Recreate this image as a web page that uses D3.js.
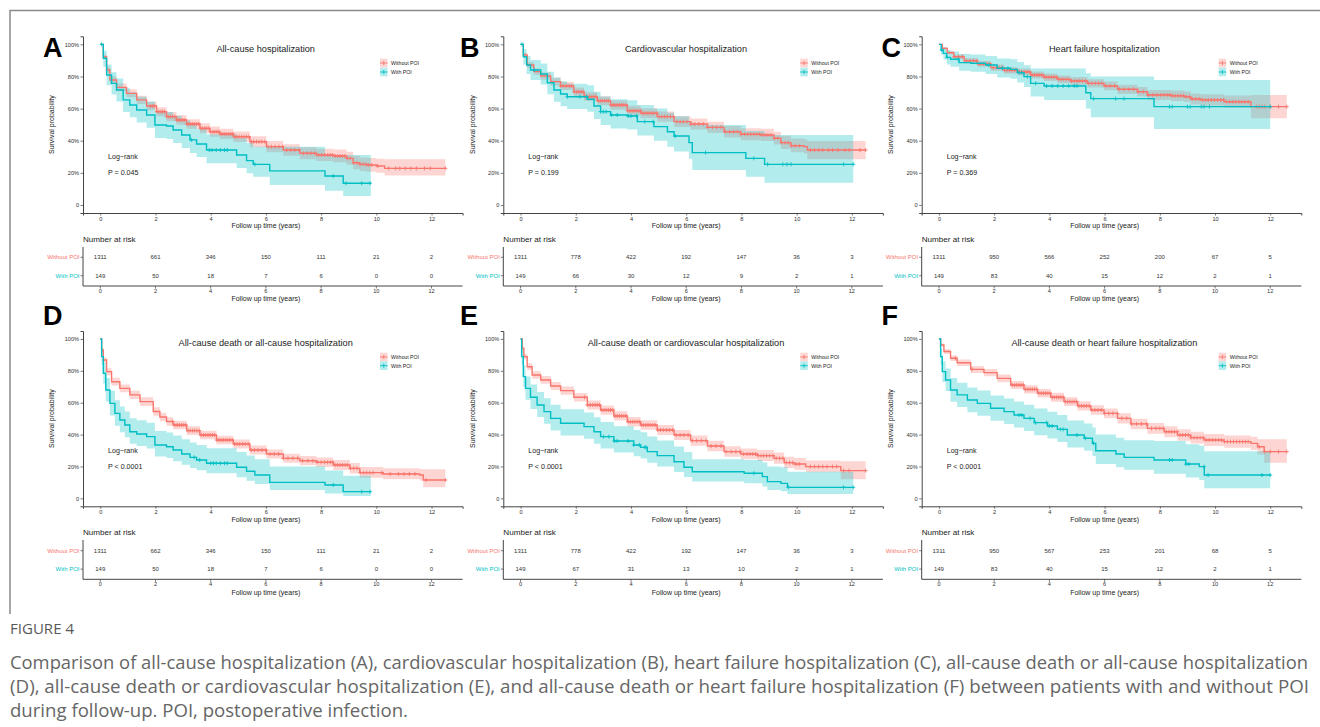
<!DOCTYPE html>
<html><head><meta charset="utf-8">
<script src="https://cdn.jsdelivr.net/npm/d3@7"></script>
<style>body{margin:0;background:#fff;} svg{display:block;}</style>
</head><body>
<svg id="c" width="1320" height="727"></svg>
<script>
// ---------- DATA (time in years, survival %, lower CI %, upper CI %) ----------
const panelLetters = ["A","B","C","D","E","F"];
const panelTitles = ["All-cause hospitalization","Cardiovascular hospitalization","Heart failure hospitalization",
  "All-cause death or all-cause hospitalization","All-cause death or cardiovascular hospitalization","All-cause death or heart failure hospitalization"];
const pValues = ["P = 0.045","P = 0.199","P = 0.369","P < 0.0001","P < 0.0001","P < 0.0001"];
const groupNames = ["Without POI","With POI"];
const xTicks = [0,2,4,6,8,10,12];
const yTicks = [0,0.2,0.4,0.6,0.8,1];
const yTickLabels = ["0","20%","40%","60%","80%","100%"];

const A_without = [[0,100,100,100],[0.11,92.3,90.9,93.7],[0.23,84,82,86],[0.35,77.8,75.5,80],[0.59,73.2,70.8,75.6],[0.95,69.5,67,72],[1.32,65.4,62.8,68],[1.68,61.6,58.9,64.3],[2.04,58.1,55.3,60.9],[2.4,55,52.1,57.9],[2.76,52.9,50,55.9],[3.13,50.4,47.4,53.4],[3.61,47.7,44.6,50.8],[3.97,45.6,42.5,48.8],[4.33,44.2,41,47.4],[4.82,42.5,39.2,45.8],[5.42,39.4,36,42.8],[6.02,36.3,32.8,39.8],[6.63,34.2,30.6,37.8],[7.23,32.2,28.5,36],[7.83,31.1,27.3,35],[8.44,30.5,26.6,34.5],[8.92,29,25,33.2],[9.16,26.3,22.2,30.6],[9.4,25.3,21.1,29.6],[9.65,24.9,20.7,29.3],[10.0,24.3,20,28.8],[10.3,22.8,18.3,28.4],[12.5,22.8,18.3,28.4]];
const A_with = [[0,100,100,100],[0.11,91.3,86,96],[0.23,80.9,74.5,87.5],[0.41,75.7,68.8,82.6],[0.59,71.6,64.4,78.8],[0.83,65.4,57.9,73],[1.07,62.2,54.6,70.2],[1.32,59.1,51.3,67.3],[1.68,56,48,64.4],[1.98,49.8,41.7,58.5],[2.4,49.2,41,57.9],[2.64,46.7,38.5,55.6],[2.95,43.6,35.4,52.7],[3.25,40.5,32.3,49.8],[3.49,38,29.8,47.5],[3.85,34.2,26,44],[4.94,31.1,23,41.5],[5.3,27.6,19.7,38.5],[5.54,25.3,17.6,36.3],[6.14,21.2,12.4,36.3],[8.14,18,8.9,31.1],[8.8,13.5,5.6,31.1],[9.8,13.5,5.6,31.1]];
const B_without = [[0,100,100,100],[0.1,93.4,92,94.8],[0.24,87.1,85.3,88.9],[0.48,83,81,85],[0.73,80.3,78.1,82.5],[1.09,76.8,74.4,79.2],[1.45,74.1,71.6,76.6],[1.93,70.5,67.9,73.1],[2.3,67.4,64.7,70.1],[2.78,64.9,62.1,67.7],[3.26,62.2,59.3,65.1],[3.87,58.7,55.7,61.7],[4.35,57.1,54,60.2],[4.95,55,51.8,58.2],[5.56,51.9,48.6,55.2],[6.16,50.4,47,53.8],[6.77,48.3,44.8,51.8],[7.37,45.6,42,49.2],[7.98,44,40.3,47.8],[8.7,43.6,39.8,47.5],[9.18,41.5,37.6,45.6],[9.43,38.8,34.8,43.1],[9.79,36.9,32.8,41.4],[10.27,36.3,32.1,40.9],[10.39,34.2,28.4,39.8],[12.5,34.2,28.4,39.8]];
const B_with = [[0,100,100,100],[0.1,92.3,87.5,97],[0.22,87.1,81.5,92.8],[0.36,84,77.8,90.3],[0.73,81.5,75,88],[0.97,76.1,69,83],[1.21,71.6,64.2,79.4],[1.45,69.1,61.5,77],[1.69,67.4,59.7,75.5],[2.42,65.8,58,74.5],[2.66,61.6,53.5,70.5],[2.9,58.1,49.8,67.5],[3.26,56,47.6,65.8],[3.87,55.4,47,65.2],[4.23,51.9,43.2,62.3],[4.83,48.8,40,60],[5.32,45.6,36.2,57.4],[5.56,42.9,33.3,55.2],[6.1,38.8,28.8,52],[6.22,32.6,21.8,49.8],[8.16,29,17.5,46],[8.84,25.3,13.9,43.6],[12.05,25.3,13.9,43.6]];
const C_without = [[0,100,100,100],[0.12,97.5,96.7,98.3],[0.3,94.8,93.6,96],[0.54,92.3,90.9,93.7],[0.91,89.8,88.2,91.4],[1.39,87.8,86,89.6],[1.87,85.5,83.6,87.4],[2.36,83.8,81.8,85.8],[2.84,82.8,80.7,84.9],[3.32,80.9,78.7,83.1],[3.81,79.5,77.2,81.8],[4.29,78.2,75.8,80.6],[4.77,77.2,74.7,79.7],[5.38,75.7,73.1,78.3],[5.98,74.1,71.4,76.8],[6.47,72,69.1,74.9],[7.19,70.5,67.5,73.5],[7.55,68.5,65.4,71.6],[8.4,68,64.8,71.2],[8.88,67.4,64.1,70.7],[9.12,66,62.6,69.4],[9.49,65.4,61.9,68.9],[10.33,64.3,60.5,68.1],[11.3,61.2,54,68.5],[12.6,61.2,54,68.5]];
const C_with = [[0,100,100,100],[0.08,96.5,93.5,99.5],[0.16,94.4,90.7,98],[0.28,91.9,87.5,96.3],[0.42,90.7,86,95.5],[0.73,88.6,83.5,94],[1.15,88.2,83,93.6],[1.69,87.1,81.6,92.8],[2.11,85.1,79.3,91.2],[2.6,84.4,78.5,90.7],[2.84,82.4,76.2,89],[3.08,79.9,73.4,87],[3.32,75.7,67.5,85],[3.81,74.1,65.4,85],[5.32,69.9,60,82],[5.5,66.2,54.6,79.9],[7.79,61.2,47.3,77.8],[12.0,61.2,47.3,77.8]];
const D_without = [[0,100,100,100],[0.05,93.1,91.7,94.5],[0.11,86.8,85,88.6],[0.23,79.5,77.3,81.7],[0.41,73.2,70.8,75.6],[0.71,69,66.5,71.5],[1.07,64.9,62.3,67.5],[1.44,60.7,58,63.4],[1.92,54.5,51.8,57.2],[2.16,51,48.3,53.7],[2.4,48.2,45.5,50.9],[2.64,46,43.3,48.7],[3.13,42.5,39.8,45.2],[3.61,39.7,37,42.4],[4.21,36.6,33.9,39.3],[4.82,34.1,31.3,36.9],[5.42,30.3,27.5,33.1],[6.02,27.8,25,30.6],[6.63,25.1,22.3,28],[7.23,23.6,20.7,26.6],[7.83,22.6,19.6,25.7],[8.44,20.9,17.8,24.1],[9.04,18.8,15.6,22.1],[9.4,16.1,12.9,19.6],[10.25,15.3,12,18.9],[11.57,14.6,11.2,18.4],[11.7,11.5,6.9,18.2],[12.5,11.5,6.9,18.2]];
const D_with = [[0,100,100,100],[0.05,88.9,83.8,94],[0.11,78.5,72,85],[0.2,68,60.7,75.5],[0.35,59.6,52,67.5],[0.53,53.3,45.5,61.5],[0.71,49.2,41.4,57.6],[0.89,46,38.3,54.5],[1.07,41.8,34.2,50.3],[1.32,40.4,32.8,49],[1.68,38.7,31.2,47.4],[1.98,33.5,26.3,42.3],[2.4,32.4,25.3,41.3],[2.64,30.3,23.3,39.4],[2.95,27.8,21,37],[3.25,25.7,19,35],[3.49,24.1,17.6,33.5],[3.85,22,15.7,31.5],[4.94,19.5,13.3,29],[5.3,17,11.1,26.8],[5.6,14.6,9,24.6],[6.14,10,5.2,19.9],[8.14,8.4,3,17.5],[8.8,4.2,1.5,14.2],[9.8,4.2,1.5,14.2]];
const E_without = [[0,100,100,100],[0.06,94.1,92.8,95.4],[0.12,88.9,87.2,90.6],[0.24,82.6,80.5,84.7],[0.42,77.4,75.1,79.7],[0.73,74.3,71.9,76.7],[1.09,70.5,68,73],[1.45,67.6,65,70.2],[1.93,63.4,60.7,66.1],[2.42,58.6,55.8,61.4],[2.9,55.4,52.5,58.3],[3.38,51.7,48.8,54.6],[3.87,48.1,45.1,51.1],[4.35,46,43,49],[4.95,42.9,39.8,46],[5.56,39.7,36.6,42.9],[6.16,36.2,33,39.5],[6.77,32.8,29.6,36.1],[7.37,29.3,26.1,32.7],[7.98,27.8,24.5,31.2],[8.58,26.8,23.5,30.3],[9.18,25.1,21.7,28.7],[9.55,22.4,19,26.1],[9.91,21.5,18,25.3],[10.33,19.9,16.3,23.8],[11.6,17.4,12,23.2],[12.5,17.4,12,23.2]];
const E_with = [[0,100,100,100],[0.04,88.9,83.8,94],[0.1,76.4,69.8,83.5],[0.18,69,61.8,76.5],[0.36,63.4,56,71.5],[0.6,58.6,51,66.8],[0.85,54.4,46.8,62.8],[1.09,50.2,42.6,58.8],[1.45,47.1,39.5,55.9],[2.3,45,37.4,53.9],[2.66,41.8,34.3,50.9],[2.9,38.7,31.3,47.9],[3.38,36,28.7,45.3],[4.1,33.5,26.4,42.9],[4.35,32,25,41.4],[4.59,29.3,22.4,38.8],[4.95,26.8,20,36.3],[5.56,23,16.6,32.6],[5.92,19.5,13.4,29],[6.22,16.7,10.5,24.5],[8.1,15.7,9.5,24],[8.76,13.6,7.5,22.5],[8.94,10.5,5.3,20],[9.43,9.4,4.5,19.5],[9.67,6.9,2.7,16.7],[12.05,6.9,2.7,16.7]];
const F_without = [[0,100,100,100],[0.06,96.2,95.2,97.2],[0.18,92.1,90.7,93.5],[0.42,87.9,86.1,89.7],[0.66,85.1,83.1,87.1],[1.15,80.9,78.7,83.1],[1.63,78.9,76.6,81.2],[2.11,75.3,72.9,77.7],[2.6,71.1,68.6,73.6],[3.08,68.4,65.8,71],[3.57,65.9,63.2,68.6],[4.05,63.4,60.6,66.2],[4.53,60.7,57.9,63.5],[5.02,58,55.1,60.9],[5.5,55.4,52.4,58.4],[5.98,53.3,50.2,56.4],[6.47,50.2,47,53.4],[6.95,46.7,43.4,50],[7.55,43.9,40.5,47.3],[8.16,41.8,38.3,45.3],[8.64,39.7,36.1,43.3],[9.12,38.1,34.4,41.8],[9.6,36.6,32.8,40.4],[10.33,35.6,31.7,39.5],[11.3,34.5,30.3,38.7],[11.54,32.4,27.5,37.1],[11.78,29.3,22.4,37],[12.6,29.3,22.4,37]];
const F_with = [[0,100,100,100],[0.06,88.9,83.8,94],[0.12,79.5,73,86],[0.24,74.3,67.3,81.5],[0.42,68,60.6,75.5],[0.66,64.9,57.3,72.6],[1.03,61.7,54,69.5],[1.39,59.6,51.8,67.6],[1.87,56.5,48.7,64.6],[2.36,54.4,46.6,62.7],[2.72,52.3,44.4,60.7],[3.08,50.2,42.3,58.8],[3.45,47.5,39.6,56.3],[3.93,45.4,37.5,54.3],[4.29,43.3,35.4,52.3],[4.65,39.7,31.9,48.9],[5.26,37.7,29.9,47],[5.56,34.5,26.6,44.5],[5.68,29.9,21.5,40],[6.41,27.8,19.5,38],[6.71,25.7,18,36.5],[7.79,24.1,15.5,36],[8.94,21.5,13,34],[9.43,19.9,11.5,33],[9.61,14.6,6.3,29.5],[12.0,14.6,6.3,29.5]];

// censoring times
const A_without_cens = [1.82,1.9,1.97,2.05,2.12,2.2,2.26,2.33,2.41,2.48,2.55,2.62,2.7,2.77,2.84,2.92,2.99,3.06,3.13,3.21,3.28,3.35,3.42,3.5,3.57,3.64,3.71,3.79,3.86,3.93,4.0,4.08,4.15,4.22,4.29,4.37,4.44,4.51,4.58,4.66,4.73,4.8,4.88,4.95,5.03,5.12,5.2,5.29,5.38,5.47,5.56,5.66,5.75,5.85,5.96,6.08,6.2,6.33,6.47,6.6,6.75,6.9,7.05,7.2,7.36,7.5,7.63,7.77,7.9,8.02,8.13,8.24,8.33,8.42,8.51,8.6,8.68,8.77,8.86,8.95,9.05,9.18,9.3,9.41,9.52,9.62,9.72,9.83,10.05,10.45,10.7,10.85,11.05,11.25,11.45,11.75,11.95,12.5];
const A_with_cens = [0.05,3.3,3.95,4.05,4.2,4.35,4.5,4.6,5.6,8.44,8.9,9.47,9.77];
const B_without_cens = [1.45,1.55,1.66,1.76,1.85,1.94,2.03,2.11,2.19,2.27,2.35,2.43,2.5,2.58,2.66,2.73,2.81,2.89,2.96,3.04,3.12,3.19,3.27,3.35,3.42,3.5,3.58,3.65,3.73,3.81,3.88,3.96,4.04,4.11,4.19,4.27,4.34,4.42,4.5,4.58,4.66,4.75,4.84,4.93,5.02,5.12,5.22,5.32,5.43,5.54,5.66,5.78,5.9,6.03,6.17,6.31,6.46,6.62,6.78,6.95,7.1,7.26,7.42,7.57,7.72,7.86,7.99,8.11,8.23,8.34,8.45,8.56,8.66,8.76,8.86,8.96,9.07,9.19,9.32,9.46,9.58,9.7,9.82,9.95,10.1,10.5,10.65,10.8,10.95,11.15,11.3,11.5,11.75,11.9,12.3,12.5];
const B_with_cens = [0.05,0.5,1.7,2.15,2.4,2.9,3.0,3.1,3.3,3.5,3.9,4.0,4.2,4.5,4.8,5.6,6.7,8.45,8.95,9.5,9.65,9.8,11.7,12.05];
const C_without_cens = [0.55,0.7,0.85,1.0,1.12,1.25,1.37,1.5,1.62,1.74,1.86,1.97,2.08,2.18,2.28,2.38,2.47,2.56,2.65,2.74,2.83,2.92,3.01,3.1,3.19,3.28,3.37,3.46,3.55,3.63,3.72,3.81,3.9,3.98,4.07,4.16,4.25,4.34,4.43,4.52,4.61,4.7,4.8,4.9,5.0,5.1,5.2,5.31,5.42,5.54,5.66,5.78,5.91,6.05,6.2,6.36,6.53,6.7,6.88,7.05,7.22,7.4,7.58,7.75,7.9,8.03,8.15,8.26,8.36,8.46,8.56,8.66,8.76,8.86,8.96,9.07,9.18,9.3,9.42,9.54,9.65,9.76,9.87,9.98,10.09,10.2,10.31,10.42,10.53,10.64,10.75,10.86,10.97,11.08,11.2,11.5,11.6,11.7,11.8,12.0,12.3,12.6];
const C_with_cens = [0.1,0.3,0.7,1.8,2.3,2.5,2.9,3.0,3.2,3.5,3.9,4.1,4.3,4.5,4.7,4.9,5.0,5.6,6.4,6.7,8.35,8.45,9.0,9.1,9.5,9.6,9.8,12.0];
const D_without_cens = [2.62,2.7,2.78,2.86,2.94,3.02,3.1,3.18,3.26,3.34,3.42,3.5,3.58,3.66,3.74,3.82,3.9,3.98,4.06,4.14,4.22,4.3,4.38,4.46,4.54,4.62,4.7,4.78,4.87,4.96,5.05,5.15,5.25,5.36,5.47,5.59,5.72,5.86,6.0,6.15,6.3,6.46,6.63,6.8,6.98,7.15,7.33,7.52,7.7,7.86,8.0,8.12,8.23,8.33,8.42,8.51,8.6,8.69,8.78,8.87,8.96,9.06,9.18,9.3,9.42,9.54,9.65,9.76,9.88,10.2,10.5,10.8,11.0,11.2,11.4,11.8,12.5];
const D_with_cens = [3.4,3.6,4.0,4.1,4.2,4.35,4.5,4.6,8.44,9.47,9.77];
const E_without_cens = [2.32,2.42,2.52,2.61,2.7,2.78,2.86,2.94,3.02,3.1,3.18,3.26,3.34,3.42,3.5,3.58,3.66,3.74,3.82,3.9,3.98,4.06,4.14,4.22,4.3,4.38,4.46,4.54,4.62,4.7,4.79,4.88,4.97,5.07,5.17,5.28,5.39,5.51,5.64,5.78,5.92,6.07,6.22,6.38,6.55,6.72,6.9,7.08,7.26,7.45,7.63,7.8,7.95,8.08,8.2,8.31,8.41,8.51,8.61,8.71,8.81,8.91,9.02,9.14,9.26,9.38,9.5,9.62,9.74,9.86,9.98,10.1,10.5,10.65,10.8,10.95,11.1,11.3,11.45,11.7,11.9,12.5];
const E_with_cens = [3.0,3.2,3.4,3.5,3.9,4.1,4.3,4.5,4.55,8.45,9.7,11.7,12.05];
const F_without_cens = [0.6,1.2,2.65,2.74,2.82,2.9,2.98,3.06,3.14,3.22,3.3,3.38,3.46,3.54,3.62,3.7,3.78,3.86,3.94,4.02,4.1,4.18,4.26,4.34,4.42,4.5,4.58,4.66,4.74,4.82,4.9,4.98,5.07,5.16,5.25,5.34,5.44,5.54,5.65,5.76,5.88,6.01,6.15,6.3,6.46,6.63,6.8,6.98,7.16,7.34,7.52,7.7,7.86,8.0,8.12,8.23,8.33,8.43,8.53,8.63,8.73,8.83,8.93,9.03,9.13,9.24,9.35,9.46,9.57,9.68,9.79,9.9,10.01,10.12,10.23,10.34,10.45,10.56,10.67,10.78,10.89,11.0,11.1,11.2,11.6,11.8,12.0,12.3,12.6];
const F_with_cens = [2.9,3.0,3.3,3.5,3.9,4.0,4.1,4.4,4.5,5.0,5.3,5.6,8.35,8.45,8.95,9.05,9.6,9.75,11.7,12.0];

// numbers at risk at 0,2,...,12 years
const A_risk_without = [1311,661,346,150,111,21,2];
const A_risk_with = [149,50,18,7,6,0,0];
const B_risk_without = [1311,778,422,192,147,36,3];
const B_risk_with = [149,66,30,12,9,2,1];
const C_risk_without = [1311,950,566,252,200,67,5];
const C_risk_with = [149,83,40,15,12,2,1];
const D_risk_without = [1311,662,346,150,111,21,2];
const D_risk_with = [149,50,18,7,6,0,0];
const E_risk_without = [1311,778,422,192,147,36,3];
const E_risk_with = [149,67,31,13,10,2,1];
const F_risk_without = [1311,950,567,253,201,68,5];
const F_risk_with = [149,83,40,15,12,2,1];

const captionHead = "FIGURE 4";
const captionLines = [
 "Comparison of all-cause hospitalization (A), cardiovascular hospitalization (B), heart failure hospitalization (C), all-cause death or all-cause hospitalization",
 "(D), all-cause death or cardiovascular hospitalization (E), and all-cause death or heart failure hospitalization (F) between patients with and without POI",
 "during follow-up. POI, postoperative infection."];

// ---------- DRAWING ----------
const svg = d3.select("#c");
const RED = "#F8766D", TEAL = "#00BFC4", COLS = [RED, TEAL];
const FONT = "'Liberation Sans', Arial, Helvetica, sans-serif";
const INK = "#222";

svg.append("path").attr("d","M10,614V10.5H1320").attr("fill","none").attr("stroke","#8a8a8a").attr("stroke-width",1.5);

const survData = [[A_without,A_with],[B_without,B_with],[C_without,C_with],[D_without,D_with],[E_without,E_with],[F_without,F_with]];
const censData = [[A_without_cens,A_with_cens],[B_without_cens,B_with_cens],[C_without_cens,C_with_cens],[D_without_cens,D_with_cens],[E_without_cens,E_with_cens],[F_without_cens,F_with_cens]];
const riskData = [[A_risk_without,A_risk_with],[B_risk_without,B_risk_with],[C_risk_without,C_risk_with],[D_risk_without,D_risk_with],[E_risk_without,E_risk_with],[F_risk_without,F_risk_with]];

const colX = [83, 503.3, 921.7];
const letterX = [43, 460, 881.5];
const rowsCfg = [
  {yr:[213,36.3], letter:57, title:49, leg:[63,72], lr:[157,173], xtt:225.5,
   rt:239.5, rr:[257.3,275.7], rtop:247, rbot:286, rxl:291, rxt:298.5},
  {yr:[506.3,331.0], letter:325, title:343, leg:[357,365.7], lr:[450.7,466.7], xtt:519.5,
   rt:532.5, rr:[550.7,569.1], rtop:540, rbot:579.3, rxl:584.3, rxt:592.3}
];

function sAt(rows, t){ let v = rows[0][1]; for (const r of rows){ if (r[0] <= t) v = r[1]; else break; } return v; }
function txt(g, x, y, s, size, opts={}){
  return g.append("text").attr("x",x).attr("y",y).attr("dy","0.35em").text(s)
    .attr("font-family",FONT).attr("font-size",size).attr("fill",opts.fill||INK)
    .attr("text-anchor",opts.anchor||"start").attr("font-weight",opts.weight||"normal");
}

for (let p = 0; p < 6; p++){
  const col = p % 3, row = Math.floor(p/3), R = rowsCfg[row], cx = colX[col];
  const g = svg.append("g");
  const x = d3.scaleLinear().domain([-0.625,13.125]).range([cx, cx+379.6]);
  const y = d3.scaleLinear().domain([-0.05,1.05]).range(R.yr);

  g.append("text").attr("x",letterX[col]).attr("y",R.letter).text(panelLetters[p])
    .attr("font-family",FONT).attr("font-size",27).attr("font-weight","bold").attr("fill","#000");

  survData[p].forEach((d,i) => {
    const area = d3.area().curve(d3.curveStepAfter).x(r => x(r[0])).y0(r => y(r[2]/100)).y1(r => y(r[3]/100));
    g.append("path").attr("d",area(d)).attr("fill",COLS[i]).attr("fill-opacity",0.3);
  });
  survData[p].forEach((d,i) => {
    const line = d3.line().curve(d3.curveStepAfter).x(r => x(r[0])).y(r => y(r[1]/100));
    g.append("path").attr("d",line(d)).attr("fill","none").attr("stroke",COLS[i]).attr("stroke-width",1.4);
    const cg = g.append("g").attr("stroke",COLS[i]).attr("stroke-width",0.9);
    censData[p][i].forEach(t => {
      const px = x(t), py = y(sAt(d,t)/100);
      cg.append("path").attr("d",`M${px-2},${py}H${px+2}M${px},${py-2}V${py+2}`);
    });
  });

  const ax = g.append("g").attr("transform",`translate(0,${R.yr[0]})`)
    .call(d3.axisBottom(x).tickValues(xTicks).tickSize(2.5).tickPadding(1.5).tickFormat(d3.format("d")));
  const ay = g.append("g").attr("transform",`translate(${cx},0)`)
    .call(d3.axisLeft(y).tickValues(yTicks).tickSize(2.5).tickPadding(1.5).tickFormat((d,i)=>yTickLabels[i]));
  [ax,ay].forEach(a => {
    a.select(".domain").attr("stroke","#444").attr("stroke-width",1);
    a.selectAll(".tick line").attr("stroke","#444").attr("stroke-width",0.7);
    a.selectAll("text").attr("font-family",FONT).attr("font-size",5.6).attr("fill","#333");
  });

  txt(g, (x(0)+x(12))/2, R.xtt, "Follow up time (years)", 7, {anchor:"middle"});
  g.append("text").attr("transform",`translate(${cx-31},${(y(0)+y(1))/2}) rotate(-90)`).attr("dy","0.35em")
    .attr("text-anchor","middle").attr("font-family",FONT).attr("font-size",7).attr("fill",INK).text("Survival probability");

  txt(g, cx+182.7, R.title, panelTitles[p], 9.2, {anchor:"middle"});

  groupNames.forEach((nm,i) => {
    const ly = R.leg[i], kx = cx+297;
    g.append("rect").attr("x",kx).attr("y",ly-4.3).attr("width",7.5).attr("height",8.6)
      .attr("fill",COLS[i]).attr("fill-opacity",0.3);
    g.append("path").attr("d",`M${kx},${ly}H${kx+7.5}M${kx+3.75},${ly-2}V${ly+2}`)
      .attr("stroke",COLS[i]).attr("stroke-width",0.9);
    txt(g, kx+11, ly, nm, 5.2);
  });

  txt(g, cx+25, R.lr[0], "Log\u2212rank", 7.1);
  txt(g, cx+25, R.lr[1], pValues[p], 7.1);

  txt(g, cx, R.rt, "Number at risk", 8.1);
  g.append("path").attr("d",`M${cx},${R.rtop}V${R.rbot}H${x(13.125)}`).attr("fill","none")
    .attr("stroke","#444").attr("stroke-width",1);
  xTicks.forEach((t,k) => {
    g.append("path").attr("d",`M${x(t)},${R.rbot}v2.5`).attr("stroke","#444").attr("stroke-width",0.7);
    txt(g, x(t), R.rxl, String(t), 5.6, {anchor:"middle", fill:"#333"});
    riskData[p].forEach((rv,i) => txt(g, x(t), R.rr[i], String(rv[k]), 6, {anchor:"middle", fill:"#333"}));
  });
  groupNames.forEach((nm,i) => {
    g.append("path").attr("d",`M${cx},${R.rr[i]}h-2.5`).attr("stroke","#444").attr("stroke-width",0.7);
    txt(g, cx-3.5, R.rr[i], nm, 6, {anchor:"end", fill:COLS[i]});
  });
  txt(g, (x(0)+x(12))/2, R.rxt, "Follow up time (years)", 7, {anchor:"middle"});
}

// caption
const CF = "'Open Sans', 'Noto Sans', sans-serif";
svg.append("text").attr("x",10).attr("y",633.5).text(captionHead).attr("font-family",CF)
  .attr("font-size",14).attr("fill","#595959").attr("textLength",64).attr("lengthAdjust","spacingAndGlyphs");
const capW = [1298, 1299, 398];
captionLines.forEach((s,i) => {
  svg.append("text").attr("x",10).attr("y",668.5 + i*24).text(s).attr("font-family",CF)
    .attr("font-size",18.5).attr("fill","#666").attr("textLength",capW[i]).attr("lengthAdjust","spacingAndGlyphs");
});
</script>
</body></html>
